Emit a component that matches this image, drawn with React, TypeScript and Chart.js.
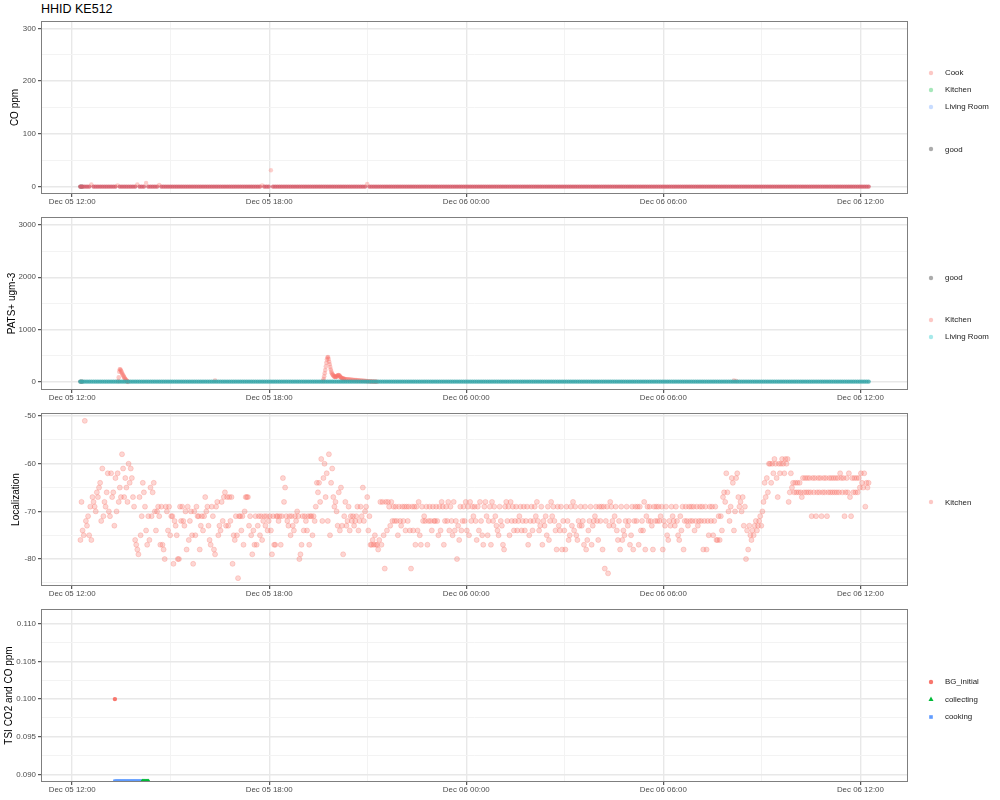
import React, { useEffect, useRef } from 'react';
import { Chart, registerables } from 'chart.js';

Chart.register(...registerables);

const FONT = '"Liberation Sans", Arial, Helvetica, sans-serif';

// ---------------- x axis: hours since Dec 05 00:00 ----------------
const xMin = 11.05;
const xMax = 37.45;
const xMajorHours = [12, 18, 24, 30, 36];
const xMajorLabels = ['Dec 05 12:00', 'Dec 05 18:00', 'Dec 06 00:00', 'Dec 06 06:00', 'Dec 06 12:00'];
const xMinorHours = [15, 21, 27, 33];

// ---------------- panel 1: CO ppm (4-minute readings from 12:15) ----------------
const coStart = 12.25;
const coStepMin = 4;
const coCook0 = [0,0,0,0,0,4,0,0,0,0,0,0,0,0,0,0,0,2,0,0,0,0,0,0,0,0,4,0,0,0];
const coCook1 = [7,0,0,0,0,0,3,0,0,0,0,0,0,0,0,0,0,0,0,0,0,0,0,0,0,0,0,0,0,0];
const coCook2 = [0,0,0,0,0,0,0,0,0,0,0,0,0,0,0,0,0,0,0,0,0,0,0,2,0,0,0,31,0,0];
const coCook3 = [0,0,0,0,0,0,0,0,0,0,0,0,0,0,0,0,0,0,0,0,0,0,0,0,0,0,0,0,0,0];
const coCook4 = [0,0,0,0,0,0,0,0,0,0,0,5,0,0,0,0,0,0,0,0,0,0,0,0,0,0,0,0,0,0];
const coCook5 = [0,0,0,0,0,0,0,0,0,0,0,0,0,0,0,0,0,0,0,0,0,0,0,0,0,0,0,0,0,0];
const coCook6 = [0,0,0,0,0,0,0,0,0,0,0,0,0,0,0,0,0,0,0,0,0,0,0,0,0,0,0,0,0,0];
const coCook7 = [0,0,0,0,0,0,0,0,0,0,0,0,0,0,0,0,0,0,0,0,0,0,0,0,0,0,0,0,0,0];
const coCook8 = [0,0,0,0,0,0,0,0,0,0,0,0,0,0,0,0,0,0,0,0,0,0,0,0,0,0,0,0,0,0];
const coCook9 = [0,0,0,0,0,0,0,0,0,0,0,0,0,0,0,0,0,0,0,0,0,0,0,0,0,0,0,0,0,0];
const coCook10 = [0,0,0,0,0,0,0,0,0,0,0,0,0,0,0,0,0,0,0,0,0,0,0,0,0,0,0,0,0,0];
const coCook11 = [0,0,0,0,0,0,0,0,0,0,0,0,0,0,0,0,0,0,0,0,0,0,0,0,0,0,0,0,0,0,0];
const coGoodTimes = [12.25, 12.28, 12.31];
const coGoodValues = [0, 0, 0];
const coTicks = [0, 100, 200, 300];
const coTickLabels = ['0', '100', '200', '300'];
const coMinor = [50, 150, 250];

// ---------------- panel 2: PATS+ ugm-3 ----------------
const patsLivingStart = 12.25;
const patsLivingStepMin = 4;
const patsLiving0 = [10,10,10,10,10,10,10,10,10,10,10,10,10,10,10,10,10,10,10,10,10,10,10,10,10,10,10,10,10,10];
const patsLiving1 = [10,10,10,10,10,10,10,10,10,10,10,10,10,10,10,10,10,10,10,10,10,10,10,10,10,10,10,10,10,10];
const patsLiving2 = [10,10,10,10,10,10,10,10,10,10,10,10,10,10,10,10,10,10,10,10,10,10,10,10,10,10,10,10,10,10];
const patsLiving3 = [10,10,10,10,10,10,10,10,10,10,10,10,10,10,10,10,10,10,10,10,10,10,10,10,10,10,10,10,10,10];
const patsLiving4 = [10,10,10,10,10,10,10,10,10,10,10,10,10,10,10,10,10,10,10,10,10,10,10,10,10,10,10,10,10,10];
const patsLiving5 = [10,10,10,10,10,10,10,10,10,10,10,10,10,10,10,10,10,10,10,10,10,10,10,10,10,10,10,10,10,10];
const patsLiving6 = [10,10,10,10,10,10,10,10,10,10,10,10,10,10,10,10,10,10,10,10,10,10,10,10,10,10,10,10,10,10];
const patsLiving7 = [10,10,10,10,10,10,10,10,10,10,10,10,10,10,10,10,10,10,10,10,10,10,10,10,10,10,10,10,10,10];
const patsLiving8 = [10,10,10,10,10,10,10,10,10,10,10,10,10,10,10,10,10,10,10,10,10,10,10,10,10,10,10,10,10,10];
const patsLiving9 = [10,10,10,10,10,10,10,10,10,10,10,10,10,10,10,10,10,10,10,10,10,10,10,10,10,10,10,10,10,10];
const patsLiving10 = [10,10,10,10,10,10,10,10,10,10,10,10,10,10,10,10,10,10,10,10,10,10,10,10,10,10,10,10,10,10];
const patsLiving11 = [10,10,10,10,10,10,10,10,10,10,10,10,10,10,10,10,10,10,10,10,10,10,10,10,10,10,10,10,10,10,10];
const patsKitchenSpike1Start = 13.40;
const patsKitchenSpike1 = [20,90,200,245,240,220,195,175,150,130,110,90,75,60,45,30,20,10,5];
const patsKitchenSpike2aStart = 19.64;
const patsKitchenSpike2a = [25,60,110,170,230,300,370,430,470,480,440,390,340,290,240,200,170,150,135,120,110,105,100,100,105,110,120,130,135,130,120,105,95,85,80,75,70,65,62,60];
const patsKitchenSpike2bStart = 20.31;
const patsKitchenSpike2b = [58,56,54,52,50,48,46,44,42,40,38,36,34,32,30,28,27,26,24,22,20,18,16,15,14,12,11,10,9,8];
const patsKitchenBumpTimes = [16.35, 32.15, 32.22];
const patsKitchenBumpValues = [30, 28, 22];
const patsGoodTimes = [12.25, 12.28, 12.31];
const patsGoodValues = [10, 10, 10];
const patsTicks = [0, 1000, 2000, 3000];
const patsTickLabels = ['0', '1000', '2000', '3000'];
const patsMinor = [500, 1500, 2500];

// ---------------- panel 3: Localization (2-minute readings from 12:15) ----------------
const locStart = 12.25;
const locStepMin = 2;
const loc00 = [-76,-68,-74,-75,-51,-72,-73,-71,-75,-69,-76,-67,-68,-69,-70,-66,-67,-65,-64,-72,-61,-71,-68,-69,-66,-62,-70,-71,-62,-67];
const loc01 = [-66,-73,-63,-70,-62,-68,-65,-67,-58,-61,-67,-63,-65,-68,-60,-64,-61,-63,-67,-69,-76,-77,-78,-79,-67,-75,-71,-64,-66,-69];
const loc02 = [-74,-77,-71,-76,-65,-71,-66,-64,-70,-74,-70,-69,-71,-77,-69,-77,-78,-80,-69,-70,-74,-69,-75,-71,-71,-81,-72,-73,-75,-80];
const loc03 = [-80,-69,-72,-69,-72,-73,-70,-78,-69,-76,-72,-70,-75,-81,-70,-75,-69,-71,-71,-78,-73,-71,-74,-71,-67,-70,-69,-73,-76,-77];
const loc04 = [-69,-71,-78,-79,-69,-68,-75,-73,-74,-68,-72,-67,-66,-73,-67,-73,-67,-72,-67,-81,-75,-76,-71,-75,-84,-71,-71,-74,-71,-77];
const loc05 = [-70,-67,-67,-67,-73,-71,-75,-79,-74,-77,-71,-77,-73,-71,-75,-71,-76,-72,-71,-73,-71,-74,-72,-71,-74,-79,-71,-77,-77,-71];
const loc06 = [-71,-72,-71,-77,-71,-63,-68,-65,-71,-72,-73,-71,-75,-71,-73,-74,-71,-72,-70,-71,-80,-79,-77,-71,-74,-71,-72,-74,-71,-77];
const loc07 = [-71,-71,-75,-71,-72,-69,-64,-66,-64,-68,-59,-72,-63,-60,-67,-62,-72,-58,-75,-64,-61,-67,-69,-68,-70,-73,-66,-74,-65,-73];
const loc08 = [-79,-71,-68,-73,-72,-69,-74,-71,-72,-71,-73,-72,-71,-69,-74,-72,-69,-71,-65,-72,-70,-69,-67,-74,-71,-77,-77,-76,-77,-75];
const loc09 = [-77,-77,-78,-76,-68,-77,-68,-75,-82,-68,-74,-68,-69,-73,-68,-72,-69,-72,-69,-72,-75,-69,-72,-73,-69,-72,-69,-74,-69,-72];
const loc10 = [-69,-74,-82,-69,-74,-69,-77,-69,-74,-68,-75,-77,-69,-72,-71,-72,-69,-77,-72,-69,-72,-74,-69,-72,-72,-69,-72,-75,-69,-74];
const loc11 = [-68,-69,-77,-72,-69,-72,-68,-74,-69,-72,-75,-68,-74,-72,-80,-73,-76,-69,-74,-72,-69,-72,-68,-74,-69,-75,-68,-72,-69,-71];
const loc12 = [-69,-72,-76,-69,-74,-68,-72,-75,-77,-69,-68,-71,-75,-72,-69,-77,-68,-72,-69,-71,-73,-74,-75,-69,-72,-73,-77,-78,-69,-68];
const loc13 = [-72,-69,-75,-68,-72,-69,-74,-72,-69,-74,-72,-71,-69,-74,-72,-69,-74,-72,-69,-77,-75,-72,-69,-74,-72,-69,-71,-68,-72,-74];
const loc14 = [-73,-69,-77,-72,-73,-71,-75,-69,-76,-72,-68,-71,-69,-72,-74,-78,-69,-73,-74,-69,-78,-72,-74,-78,-69,-72,-76,-75,-69,-73];
const loc15 = [-68,-74,-69,-75,-76,-72,-73,-69,-73,-72,-77,-69,-78,-76,-74,-72,-69,-77,-73,-72,-71,-69,-72,-76,-69,-72,-69,-78,-69,-82];
const loc16 = [-72,-69,-83,-73,-68,-69,-72,-73,-71,-69,-74,-76,-72,-78,-69,-76,-74,-75,-72,-69,-73,-72,-77,-75,-69,-78,-72,-69,-72,-69];
const loc17 = [-77,-69,-74,-72,-74,-68,-78,-71,-69,-72,-69,-72,-73,-78,-69,-72,-69,-72,-69,-72,-71,-69,-78,-72,-73,-69,-75,-76,-72,-73];
const loc18 = [-69,-71,-72,-73,-69,-72,-75,-76,-71,-74,-69,-78,-72,-69,-72,-73,-69,-72,-69,-72,-69,-74,-72,-69,-73,-72,-69,-72,-69,-78];
const loc19 = [-72,-69,-78,-72,-75,-69,-72,-69,-75,-72,-69,-76,-76,-71,-76,-71,-74,-67,-66,-68,-62,-66,-70,-72,-69,-63,-64,-74,-70,-63];
const loc20 = [-62,-67,-69,-68,-70,-67,-73,-69,-80,-74,-78,-73,-75,-76,-74,-75,-73,-72,-74,-73,-72,-71,-73,-70,-68,-64,-67,-63,-66,-60];
const loc21 = [-60,-64,-60,-62,-59,-60,-63,-67,-60,-62,-60,-59,-60,-62,-59,-60,-59,-68,-66,-62,-65,-64,-66,-64,-66,-64,-66,-64,-66,-67];
const loc22 = [-63,-66,-63,-66,-63,-66,-63,-66,-71,-63,-66,-63,-71,-66,-63,-66,-63,-71,-66,-63,-66,-63,-71,-66,-63,-66,-63,-66,-63,-66];
const loc23 = [-63,-66,-63,-66,-62,-63,-66,-63,-71,-66,-63,-66,-62,-67,-71,-63,-66,-63,-66,-63,-66,-63,-65,-62,-64,-65,-62,-69,-64,-65,-64];
const locTicks = [-80, -70, -60, -50];
const locTickLabels = ['-80', '-70', '-60', '-50'];
const locMinor = [-85, -75, -65, -55];

// ---------------- panel 4: TSI CO2 and CO ppm ----------------
const tsiBgTimes = [13.30];
const tsiBgValues = [0.1];
const tsiCookingStart = 13.30;
const tsiCookingStepMin = 2;
const tsiCooking = [0.0891,0.0891,0.0891,0.0891,0.0891,0.0891,0.0891,0.0891,0.0891,0.0891,0.0891,0.0891,0.0891,0.0891,0.0891,0.0891,0.0891,0.0891,0.0891,0.0891,0.0891,0.0891,0.0891,0.0891,0.0891];
const tsiCollectingStart = 14.13;
const tsiCollectingStepMin = 1;
const tsiCollecting = [0.0891,0.0891,0.0891,0.0891,0.0891,0.0891,0.0891,0.0891,0.0891,0.0891,0.0891,0.0891,0.0891];
const tsiTicks = [0.09, 0.095, 0.1, 0.105, 0.11];
const tsiTickLabels = ['0.090', '0.095', '0.100', '0.105', '0.110'];
const tsiMinor = [0.0925, 0.0975, 0.1025, 0.1075];

// ---------------- helpers ----------------
type Pt = { x: number; y: number };
const regular = (start: number, stepMin: number, values: number[]): Pt[] =>
  values.map((v, i) => ({ x: start + (i * stepMin) / 60, y: v }));
const paired = (times: number[], values: number[]): Pt[] => times.map((t, i) => ({ x: t, y: values[i] }));
const has = (arr: number[], v: any) => typeof v === 'number' && arr.some((m) => Math.abs(m - v) < 1e-9);

const PAD_TOP = 10;
const PANEL_H = 173;
const X_AXIS_H = 25;
const CANVAS_H = PAD_TOP + PANEL_H + X_AXIS_H;
const PANEL_TOPS = [21, 217, 413, 609];

const panelBorder = {
  id: 'panelBorder',
  afterDatasetsDraw(chart: any) {
    const { ctx, chartArea: a } = chart;
    ctx.save();
    ctx.strokeStyle = '#7f7f7f';
    ctx.lineWidth = 1;
    ctx.strokeRect(a.left + 0.5, a.top + 0.5, a.right - a.left - 1, a.bottom - a.top - 1);
    ctx.restore();
  },
};

interface YSpec {
  min: number;
  max: number;
  major: number[];
  labels: string[];
  minor: number[];
  title: string;
  titlePad: number;
}

function buildOptions(y: YSpec): any {
  const tickFont = { family: FONT, size: 7.9 };
  return {
    animation: false,
    responsive: false,
    maintainAspectRatio: false,
    events: [],
    layout: { padding: { top: PAD_TOP, right: 92, left: 0, bottom: 0 } },
    plugins: { legend: { display: false }, tooltip: { enabled: false } },
    scales: {
      x: {
        type: 'linear',
        min: xMin,
        max: xMax,
        afterBuildTicks: (s: any) => {
          s.ticks = [...xMajorHours, ...xMinorHours].sort((a, b) => a - b).map((v) => ({ value: v }));
        },
        afterFit: (s: any) => {
          s.height = X_AXIS_H;
        },
        ticks: {
          autoSkip: false,
          maxRotation: 0,
          minRotation: 0,
          padding: 0,
          color: '#4d4d4d',
          font: tickFont,
          callback: (v: number) => {
            const i = xMajorHours.findIndex((m) => Math.abs(m - v) < 1e-9);
            return i >= 0 ? xMajorLabels[i] : '';
          },
        },
        grid: {
          color: (c: any) => (has(xMajorHours, c.tick?.value) ? '#e8e8e8' : '#f3f3f3'),
          lineWidth: (c: any) => (has(xMajorHours, c.tick?.value) ? 1.4 : 1),
          tickColor: (c: any) => (has(xMajorHours, c.tick?.value) ? '#333333' : 'rgba(0,0,0,0)'),
          tickWidth: 1,
          tickLength: 3,
          drawTicks: true,
        },
        border: { display: false },
      },
      y: {
        type: 'linear',
        min: y.min,
        max: y.max,
        afterBuildTicks: (s: any) => {
          s.ticks = [...y.major, ...y.minor].sort((a, b) => a - b).map((v) => ({ value: v }));
        },
        afterFit: (s: any) => {
          s.width = 41;
        },
        ticks: {
          autoSkip: false,
          padding: 2,
          color: '#4d4d4d',
          font: tickFont,
          callback: (v: number) => {
            const i = y.major.findIndex((m) => Math.abs(m - v) < 1e-9);
            return i >= 0 ? y.labels[i] : '';
          },
        },
        title: {
          display: true,
          text: y.title,
          color: '#000000',
          font: { family: FONT, size: 10 },
          padding: { top: y.titlePad, bottom: 0 },
        },
        grid: {
          color: (c: any) => (has(y.major, c.tick?.value) ? '#e8e8e8' : '#f3f3f3'),
          lineWidth: (c: any) => (has(y.major, c.tick?.value) ? 1.4 : 1),
          tickColor: (c: any) => (has(y.major, c.tick?.value) ? '#333333' : 'rgba(0,0,0,0)'),
          tickWidth: 1,
          tickLength: 3,
          drawTicks: true,
        },
        border: { display: false },
      },
    },
  };
}

function Panel({ index, datasets, y }: { index: number; datasets: any[]; y: YSpec }) {
  const ref = useRef<HTMLCanvasElement>(null);
  useEffect(() => {
    const chart = new Chart(ref.current as HTMLCanvasElement, {
      type: 'scatter',
      data: { datasets },
      options: buildOptions(y),
      plugins: [panelBorder],
    } as any);
    return () => chart.destroy();
  }, []);
  return (
    <canvas
      ref={ref}
      width={1000}
      height={CANVAS_H}
      style={{ position: 'absolute', left: 0, top: PANEL_TOPS[index] - PAD_TOP, width: 1000, height: CANVAS_H }}
    />
  );
}

type LegendItem = { label: string; y: number; color: string; shape: 'circle' | 'triangle' | 'square' };

function Marker({ color, shape }: { color: string; shape: string }) {
  return (
    <svg width={8} height={8} style={{ display: 'block' }}>
      {shape === 'circle' && <circle cx={4} cy={4} r={2.2} fill={color} />}
      {shape === 'square' && <rect x={2.2} y={2.2} width={3.6} height={3.6} fill={color} />}
      {shape === 'triangle' && <polygon points="4,1.6 6.5,6 1.5,6" fill={color} />}
    </svg>
  );
}

function Legend({ items }: { items: LegendItem[] }) {
  return (
    <>
      {items.map((it) => (
        <div
          key={it.label + it.y}
          style={{
            position: 'absolute',
            left: 927,
            top: it.y - 6,
            height: 12,
            display: 'flex',
            alignItems: 'center',
            fontFamily: FONT,
            fontSize: 7.9,
            color: '#1a1a1a',
            whiteSpace: 'nowrap',
          }}
        >
          <Marker color={it.color} shape={it.shape} />
          <span style={{ marginLeft: 10 }}>{it.label}</span>
        </div>
      ))}
    </>
  );
}

const PINK_LIGHT = 'rgba(248,118,109,0.4)';
const GREEN_LIGHT = 'rgba(0,186,56,0.35)';
const BLUE_LIGHT = 'rgba(97,156,255,0.35)';
const CYAN_LIGHT = 'rgba(0,191,196,0.35)';
const GREY = 'rgba(127,127,127,0.65)';

const legend1: LegendItem[] = [
  { label: 'Cook', y: 72.5, color: PINK_LIGHT, shape: 'circle' },
  { label: 'Kitchen', y: 89.5, color: GREEN_LIGHT, shape: 'circle' },
  { label: 'Living Room', y: 106.5, color: BLUE_LIGHT, shape: 'circle' },
  { label: 'good', y: 149, color: GREY, shape: 'circle' },
];
const legend2: LegendItem[] = [
  { label: 'good', y: 277.5, color: GREY, shape: 'circle' },
  { label: 'Kitchen', y: 319.5, color: PINK_LIGHT, shape: 'circle' },
  { label: 'Living Room', y: 336.5, color: CYAN_LIGHT, shape: 'circle' },
];
const legend3: LegendItem[] = [{ label: 'Kitchen', y: 502, color: PINK_LIGHT, shape: 'circle' }];
const legend4: LegendItem[] = [
  { label: 'BG_initial', y: 681.5, color: '#F8766D', shape: 'circle' },
  { label: 'collecting', y: 699, color: '#00BA38', shape: 'triangle' },
  { label: 'cooking', y: 716.5, color: '#619CFF', shape: 'square' },
];

function pointDs(label: string, data: Pt[], color: any, radius: number, style: string = 'circle', border = 0) {
  return {
    label,
    data,
    showLine: false,
    pointStyle: style,
    pointRadius: radius,
    pointHoverRadius: radius,
    pointBorderWidth: border,
    pointBackgroundColor: color,
    pointBorderColor: color,
  };
}

export default function App() {
  const coCookValues = [
    ...coCook0, ...coCook1, ...coCook2, ...coCook3, ...coCook4, ...coCook5,
    ...coCook6, ...coCook7, ...coCook8, ...coCook9, ...coCook10, ...coCook11,
  ];
  const patsLivingValues = [
    ...patsLiving0, ...patsLiving1, ...patsLiving2, ...patsLiving3, ...patsLiving4, ...patsLiving5,
    ...patsLiving6, ...patsLiving7, ...patsLiving8, ...patsLiving9, ...patsLiving10, ...patsLiving11,
  ];
  const locValues = [
    ...loc00, ...loc01, ...loc02, ...loc03, ...loc04, ...loc05, ...loc06, ...loc07,
    ...loc08, ...loc09, ...loc10, ...loc11, ...loc12, ...loc13, ...loc14, ...loc15,
    ...loc16, ...loc17, ...loc18, ...loc19, ...loc20, ...loc21, ...loc22, ...loc23,
  ];

  const ds1 = [
    pointDs(
      'Cook',
      regular(coStart, coStepMin, coCookValues),
      (c: any) => (c.raw && c.raw.y > 1 ? 'rgba(248,118,109,0.35)' : 'rgba(214,94,108,0.8)'),
      2.2
    ),
    pointDs('good', paired(coGoodTimes, coGoodValues), 'rgba(140,140,140,0.8)', 2.2),
  ];
  const ds2 = [
    pointDs('Living Room', regular(patsLivingStart, patsLivingStepMin, patsLivingValues), 'rgba(58,168,170,0.8)', 2.2),
    pointDs(
      'Kitchen',
      [
        ...regular(patsKitchenSpike1Start, 1, patsKitchenSpike1),
        ...regular(patsKitchenSpike2aStart, 1, patsKitchenSpike2a),
        ...regular(patsKitchenSpike2bStart, 2, patsKitchenSpike2b),
        ...paired(patsKitchenBumpTimes, patsKitchenBumpValues),
      ],
      'rgba(248,118,109,0.4)',
      2.3
    ),
    pointDs('good', paired(patsGoodTimes, patsGoodValues), 'rgba(140,140,140,0.8)', 2.2),
  ];
  const ds3 = [pointDs('Kitchen', regular(locStart, locStepMin, locValues), 'rgba(248,118,109,0.3)', 2.5, 'circle', 0.9)];
  const ds4 = [
    pointDs('BG_initial', paired(tsiBgTimes, tsiBgValues), '#F8766D', 2.2),
    pointDs('collecting', regular(tsiCollectingStart, tsiCollectingStepMin, tsiCollecting), '#00BA38', 2.6, 'triangle'),
    pointDs('cooking', regular(tsiCookingStart, tsiCookingStepMin, tsiCooking), '#619CFF', 2.5, 'rect'),
  ];

  const y1: YSpec = { min: -14, max: 314, major: coTicks, labels: coTickLabels, minor: coMinor, title: 'CO ppm', titlePad: 9 };
  const y2: YSpec = { min: -150, max: 3150, major: patsTicks, labels: patsTickLabels, minor: patsMinor, title: 'PATS+ ugm-3', titlePad: 6 };
  const y3: YSpec = { min: -85.65, max: -49.35, major: locTicks, labels: locTickLabels, minor: locMinor, title: 'Localization', titlePad: 10.5 };
  const y4: YSpec = { min: 0.089, max: 0.11195, major: tsiTicks, labels: tsiTickLabels, minor: tsiMinor, title: 'TSI CO2 and CO ppm', titlePad: 3 };

  return (
    <div style={{ position: 'absolute', left: 0, top: 0, width: 1000, height: 800, background: '#ffffff', overflow: 'hidden' }}>
      <div
        style={{
          position: 'absolute',
          left: 41,
          top: 3,
          fontFamily: FONT,
          fontSize: 12.5,
          lineHeight: '12.5px',
          color: '#000000',
          whiteSpace: 'nowrap',
        }}
      >
        HHID KE512
      </div>
      <Panel index={0} datasets={ds1} y={y1} />
      <Panel index={1} datasets={ds2} y={y2} />
      <Panel index={2} datasets={ds3} y={y3} />
      <Panel index={3} datasets={ds4} y={y4} />
      <Legend items={legend1} />
      <Legend items={legend2} />
      <Legend items={legend3} />
      <Legend items={legend4} />
    </div>
  );
}
